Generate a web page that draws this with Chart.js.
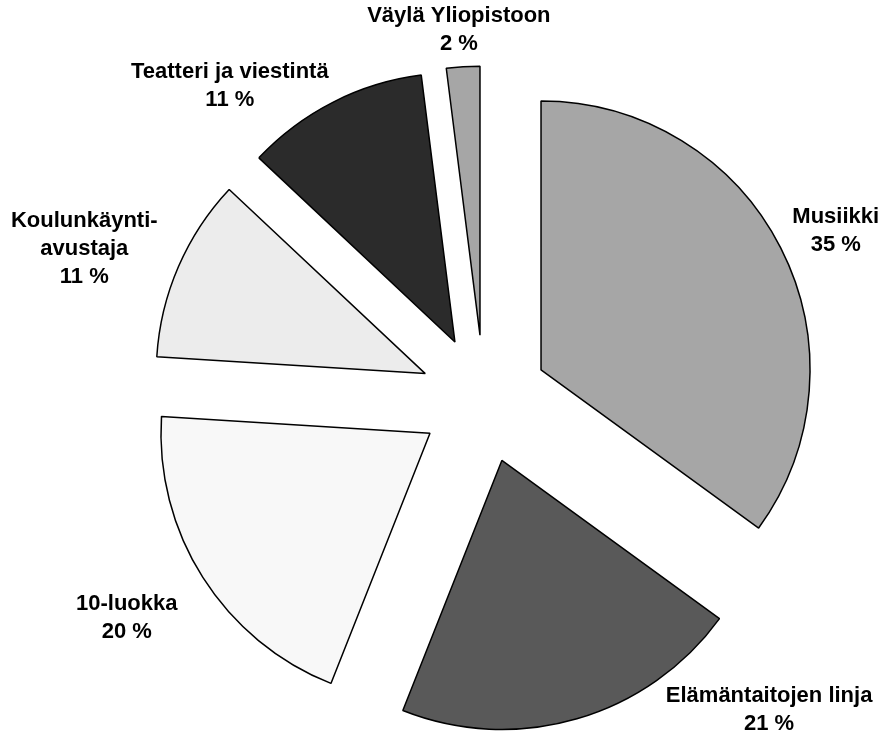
<!DOCTYPE html>
<html>
<head>
<meta charset="utf-8">
<script src="https://cdn.jsdelivr.net/npm/chart.js@4/dist/chart.umd.min.js"></script>
<style>
  html, body { margin: 0; padding: 0; background: #fff; }
  #wrap { width: 888px; height: 736px; }
</style>
</head>
<body>
<div id="wrap"><canvas id="chartPie"></canvas></div>
<script>
// Datos del gráfico
const categorias = ['Musiikki', 'Elämäntaitojen linja', '10-luokka', ['Koulunkäynti-', 'avustaja'], 'Teatteri ja viestintä', 'Väylä Yliopistoon'];
const porcentajes = [35, 21, 20, 11, 11, 2];
const colores = ['#a6a6a6', '#595959', '#f8f8f8', '#ececec', '#2b2b2b', '#a6a6a6'];

// Posición de las etiquetas: ángulo (grados desde arriba, horario) y distancia al centro
const etiquetaAngulo = [64.4, 137.5, 238.5, 290.6, 320.9, 356.1];
const etiquetaDist = [390, 422, 419, 427, 403, 370];

// Separación de cada sector (px) y radio
const separacion = 64;
const radio = 269;

// El offset de Chart.js estrecha los sectores pequeños, así que se desplaza
// cada sector a mano a lo largo de su ángulo medio
const pluginSeparar = {
  id: 'separar',
  afterDatasetUpdate(chart) {
    chart.getDatasetMeta(0).data.forEach(arco => {
      const medio = (arco.startAngle + arco.endAngle) / 2;
      arco.x += Math.cos(medio) * separacion;
      arco.y += Math.sin(medio) * separacion;
    });
  }
};

const pluginEtiquetas = {
  id: 'etiquetas',
  afterDraw(chart) {
    const ctx = chart.ctx;
    const area = chart.chartArea;
    const cx = (area.left + area.right) / 2;
    const cy = (area.top + area.bottom) / 2;
    ctx.save();
    ctx.font = 'bold 22px "Liberation Sans", Arial, sans-serif';
    ctx.fillStyle = '#000';
    ctx.textAlign = 'center';
    ctx.textBaseline = 'middle';
    categorias.forEach((nombre, i) => {
      const a = etiquetaAngulo[i] * Math.PI / 180;
      const x = cx + Math.sin(a) * etiquetaDist[i];
      const y = cy - Math.cos(a) * etiquetaDist[i];
      const lineas = (Array.isArray(nombre) ? nombre : [nombre]).concat(porcentajes[i] + ' %');
      const alto = 28;
      lineas.forEach((linea, j) => {
        ctx.fillText(linea, x, y + (j - (lineas.length - 1) / 2) * alto);
      });
    });
    ctx.restore();
  }
};

new Chart(document.getElementById('chartPie'), {
  type: 'pie',
  data: {
    labels: categorias,
    datasets: [{
      data: porcentajes,
      backgroundColor: colores,
      borderColor: '#000',
      borderWidth: 1.5
    }]
  },
  options: {
    responsive: true,
    maintainAspectRatio: false,
    animation: false,
    radius: radio,
    layout: { padding: { left: 80, right: 0, top: 62, bottom: 0 } },
    plugins: {
      legend: { display: false },
      tooltip: { enabled: false }
    }
  },
  plugins: [pluginSeparar, pluginEtiquetas]
});
</script>
</body>
</html>
